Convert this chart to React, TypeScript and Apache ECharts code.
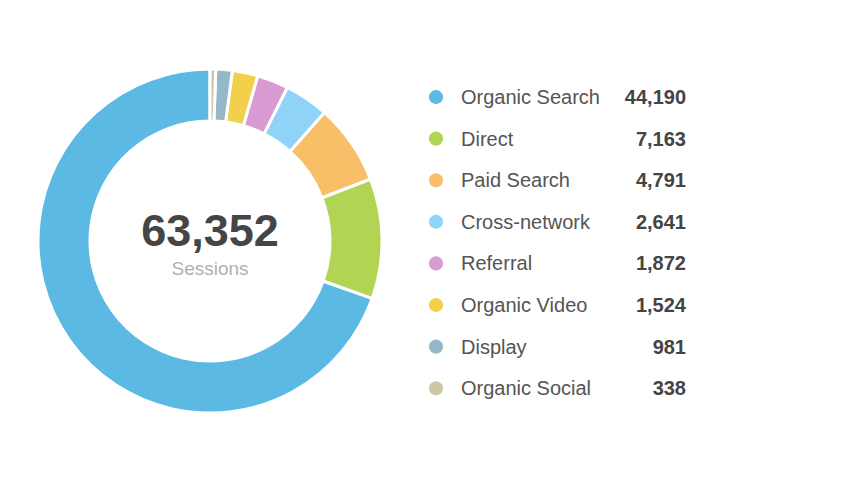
import React, { useEffect, useRef } from "react";
import * as echarts from "echarts";

const categories = [
  "Organic Search",
  "Direct",
  "Paid Search",
  "Cross-network",
  "Referral",
  "Organic Video",
  "Display",
  "Organic Social",
];
const sessions = [44190, 7163, 4791, 2641, 1872, 1524, 981, 338];
const colors = [
  "#5cb9e4",
  "#b1d452",
  "#f8be68",
  "#8fd3f8",
  "#d89bd2",
  "#f2d04b",
  "#94b8c8",
  "#cfc6a8",
];
const totalLabel = "63,352";
const centerCaption = "Sessions";

const fmt = (v: number) => v.toLocaleString("en-US");

export default function App() {
  const ref = useRef<HTMLDivElement>(null);
  useEffect(() => {
    if (!ref.current) return;
    const chart = echarts.init(ref.current, null, { renderer: "svg" });
    const font = "'Liberation Sans', Arial, Helvetica, sans-serif";
    const valueByName: Record<string, number> = {};
    categories.forEach((c, i) => (valueByName[c] = sessions[i]));
    chart.setOption({
      animation: false,
      backgroundColor: "#ffffff",
      color: colors,
      legend: {
        orient: "vertical",
        left: 422,
        top: 80,
        icon: "circle",
        itemWidth: 16,
        itemHeight: 16,
        itemGap: 17.6,
        selectedMode: false,
        data: categories,
        formatter: (name: string) =>
          `{s|}{n|${name}}{v|${fmt(valueByName[name])}}`,
        textStyle: {
          fontFamily: font,
          lineHeight: 24,
          rich: {
            s: { width: 12, fontSize: 20, fontFamily: font, lineHeight: 24 },
            n: {
              width: 160,
              fontSize: 20,
              color: "#555555",
              fontFamily: font,
              lineHeight: 24,
            },
            v: {
              width: 65,
              align: "right",
              fontSize: 20,
              fontWeight: "bold",
              color: "#444444",
              fontFamily: font,
              lineHeight: 24,
            },
          },
        },
      },
      graphic: [
        {
          type: "text",
          x: 210,
          y: 230,
          style: {
            text: totalLabel,
            fontSize: 45,
            fontWeight: "bold",
            fill: "#454545",
            fontFamily: font,
            textAlign: "center",
            textVerticalAlign: "middle",
          },
        },
        {
          type: "text",
          x: 210,
          y: 268,
          style: {
            text: centerCaption,
            fontSize: 19,
            fill: "#b0b0b0",
            fontFamily: font,
            textAlign: "center",
            textVerticalAlign: "middle",
          },
        },
      ],
      series: [
        {
          type: "pie",
          center: [210, 241],
          radius: [120, 172],
          startAngle: 90,
          clockwise: false,
          label: { show: false },
          labelLine: { show: false },
          emphasis: { disabled: true },
          silent: true,
          itemStyle: { borderColor: "#ffffff", borderWidth: 3 },
          data: categories.map((c, i) => ({ name: c, value: sessions[i] })),
        },
      ],
    });
    return () => chart.dispose();
  }, []);
  return (
    <div
      ref={ref}
      style={{ position: "absolute", left: 0, top: 0, width: 842, height: 489 }}
    />
  );
}
